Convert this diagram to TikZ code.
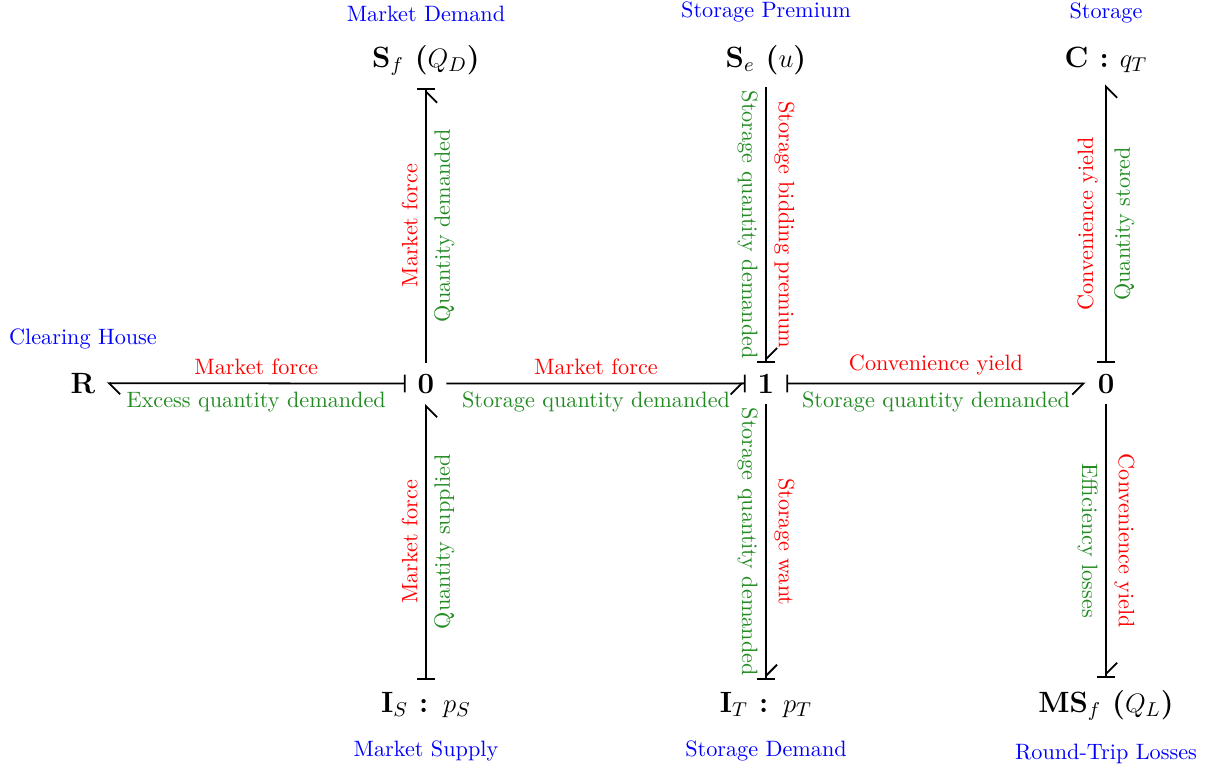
\documentclass[tikz,border=0pt]{standalone}
\usepackage{tikz}
\usetikzlibrary{arrows.meta}

\definecolor{effortred}{RGB}{255,0,0}
\definecolor{flowgreen}{RGB}{34,139,34}
\definecolor{roleblue}{RGB}{0,0,255}

\newcommand{\nodefont}{\fontsize{13.2}{16}\selectfont\bfseries}

\tikzset{
  junction/.style={font=\nodefont, inner sep=0pt, minimum width=18pt, minimum height=18pt, anchor=base},
  element/.style={font=\nodefont, inner xsep=5pt, inner ysep=5.3pt, anchor=base},
  role/.style={text=roleblue, font=\normalsize},
  bond/.style={thick},
  effort/.style={text=effortred},
  flow/.style={text=flowgreen},
  lup/.style={rotate=90, anchor=south},
  rup/.style={rotate=90, anchor=north},
  ldown/.style={rotate=-90, anchor=north},
  rdown/.style={rotate=-90, anchor=south},
  hl/.tip={Straight Barb[left,length=5pt,width=10pt]},
  hr/.tip={Straight Barb[right,length=5pt,width=10pt]},
  cs/.tip={Bar[width=8pt]},
  hlcs/.tip={Straight Barb[left,length=5pt,width=10pt] Bar[width=8pt,sep=0pt]},
  hrcs/.tip={Straight Barb[right,length=5pt,width=10pt] Bar[width=8pt,sep=0pt]},
}

\begin{document}
\begin{tikzpicture}[x=0.45pt, y=-0.45pt, label distance=1.5pt]
  \useasboundingbox (0,0) rectangle (1212,767);

  % junctions
  \node[junction] (zl) at (426,393) {0};
  \node[junction] (one) at (766,393) {1};
  \node[junction] (zr) at (1106,393) {0};

  % elements
  \node[element, label={[role]above:Clearing House}] (R) at (83,393) {R};
  \node[element, label={[role]above:Market Demand}] (Sf) at (426,67) {S$_f$ ($Q_D$)};
  \node[element, label={[role]below:Market Supply}] (Is) at (426,712) {I$_S$ : $p_S$};
  \node[element, label={[role]above:Storage Premium}] (Se) at (766,67) {S$_e$ ($u$)};
  \node[element, label={[role]below:Storage Demand}] (It) at (766,712) {I$_T$ : $p_T$};
  \node[element, label={[role]above:Storage}] (C) at (1106,67) {C : $q_T$};
  \node[element, label={[role]below:Round-Trip Losses}] (MSf) at (1106,712) {MS$_f$ ($Q_L$)};

  % bonds
  \draw[bond, {cs}-{hl}] (zl) -- node[above, effort] {Market force}
    node[below, flow] {Excess quantity demanded} (R);
  \draw[bond, -{hrcs}] (zl) -- node[lup, effort] {Market force}
    node[rup, flow] {Quantity demanded} (Sf);
  \draw[bond, {cs}-{hr}] (Is) -- node[lup, effort] {Market force}
    node[rup, flow] {Quantity supplied} (zl);
  \draw[bond, -{hrcs}] (zl) -- node[above, effort] {Market force}
    node[below, flow] {Storage quantity demanded} (one);
  \draw[bond, -{hlcs}] (Se) -- node[ldown, flow] {Storage quantity demanded}
    node[rdown, effort] {Storage bidding premium} (one);
  \draw[bond, -{hlcs}] (one) -- node[ldown, flow] {Storage quantity demanded}
    node[rdown, effort] {Storage want} (It);
  \draw[bond, {cs}-{hr}] (one) -- node[above, effort] {Convenience yield}
    node[below, flow] {Storage quantity demanded} (zr);
  \draw[bond, {cs}-{hr}] (zr) -- node[lup, effort] {Convenience yield}
    node[rup, flow] {Quantity stored} (C);
  \draw[bond, -{hlcs}] (zr) -- node[ldown, flow] {Efficiency losses}
    node[rdown, effort] {Convenience yield} (MSf);
\end{tikzpicture}
\end{document}
